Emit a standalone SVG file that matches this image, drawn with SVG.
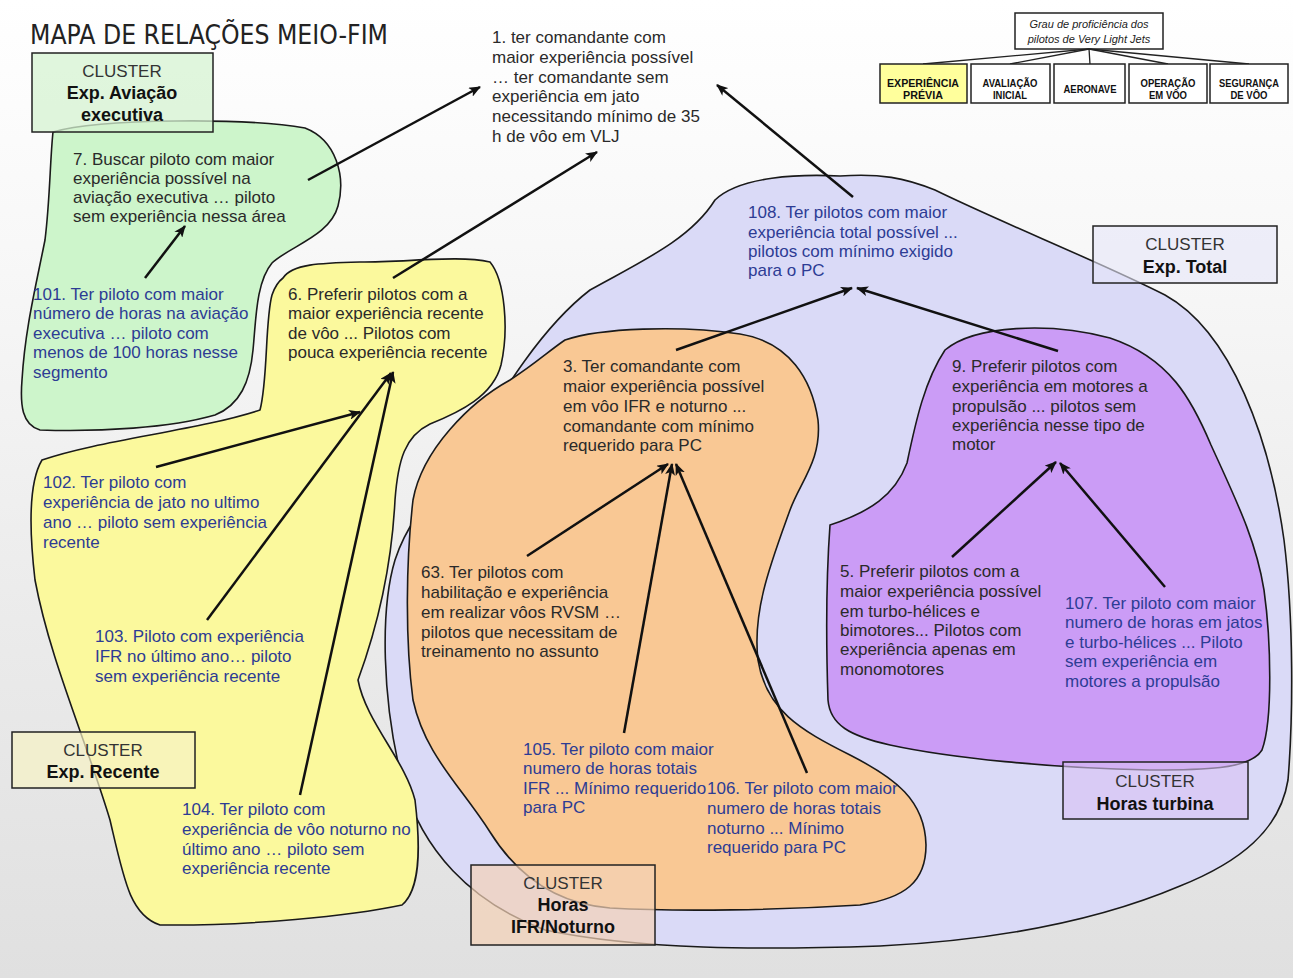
<svg xmlns="http://www.w3.org/2000/svg" width="1293" height="978" viewBox="0 0 1293 978">
<defs>
<linearGradient id="bg" x1="0" y1="0" x2="0" y2="1">
<stop offset="0" stop-color="#ffffff"/>
<stop offset="0.25" stop-color="#f8f8f8"/>
<stop offset="0.6" stop-color="#ececec"/>
<stop offset="1" stop-color="#e0e0e0"/>
</linearGradient>
<marker id="ah" markerWidth="12" markerHeight="10" refX="11" refY="5" orient="auto" markerUnits="userSpaceOnUse">
<path d="M0,0 L12,5 L0,10 L3,5 Z" fill="#111"/>
</marker>
<style>
.t{font-family:"Liberation Sans",Arial,sans-serif;font-size:17px;fill:#2a2a2a}
.b{fill:#2d3c94}
.blob{stroke:#1a1a1a;stroke-width:1.6}
.cb{stroke:#222;stroke-width:1.5}
.ct{font-family:"Liberation Sans",Arial,sans-serif;font-size:17px;fill:#333;text-anchor:middle}
.cbold{font-weight:bold;font-size:18px;fill:#111}
.arr{stroke:#111;stroke-width:2.5;fill:none;marker-end:url(#ah)}
.lg{font-family:"Liberation Sans",Arial,sans-serif;font-size:10px;font-weight:bold;fill:#111;text-anchor:middle}
.lbox{fill:#fff;stroke:#222;stroke-width:1.5}
.ll{stroke:#222;stroke-width:1.3}
</style>
</defs>
<rect width="1293" height="978" fill="url(#bg)"/>

<text x="30" y="44" font-family="'DejaVu Sans',sans-serif" font-size="27" fill="#222" textLength="358" lengthAdjust="spacingAndGlyphs">MAPA DE RELAÇÕES MEIO-FIM</text>

<!-- cluster regions -->
<g id="cluster-exp-total">
<path class="blob" fill="#dadaf7" d="M455,470 C477,440 525,340 590,290 C640,262 690,240 715,200 C740,176 800,174 840,176 C880,173 905,178 935,190 C1000,222 1100,262 1165,295 C1232,332 1270,440 1284,540 C1294,620 1293,720 1288,780 C1280,830 1240,862 1180,886 C1100,920 1000,940 880,946 C760,950 640,950 545,930 C470,902 422,850 402,780 C382,700 380,610 395,560 C408,520 432,497 455,470 Z"/>
</g>
<g id="cluster-horas-ifr">
<path class="blob" fill="#f9c894" d="M565,340 C600,328 680,325 740,334 C790,342 812,380 818,420 C822,460 800,482 790,510 C772,560 752,610 758,660 C766,710 800,730 850,755 C895,778 925,800 926,845 C926,882 905,898 860,905 C780,910 680,912 610,908 C560,904 520,880 490,832 C460,785 425,755 413,700 C405,640 406,560 413,500 C422,450 470,402 510,380 C535,364 550,350 565,340 Z"/>
</g>
<g id="cluster-horas-turbina">
<path class="blob" fill="#cb9cf6" d="M830,525 C870,512 895,495 907,463 C916,420 925,380 945,350 C975,325 1050,322 1110,338 C1170,358 1192,400 1211,445 C1236,500 1256,540 1264,590 C1271,640 1273,720 1262,750 C1250,770 1200,770 1150,770 C1050,768 950,758 890,745 C850,736 830,725 828,700 C826,640 826,580 830,525 Z"/>
</g>
<g id="cluster-exp-aviacao">
<path class="blob" fill="#cdf5cb" d="M53,132 C100,118 250,118 305,128 C336,140 346,176 338,206 C330,236 290,246 272,263 C256,282 256,320 253,350 C250,382 240,405 215,415 C170,428 100,432 40,430 C22,425 20,405 22,380 C25,330 35,290 45,240 C50,200 50,160 53,132 Z"/>
</g>
<g id="cluster-exp-recente">
<path class="blob" fill="#fbf99d" d="M283,278 C292,264 320,263 360,262 C410,262 460,255 490,262 C505,280 509,330 501,365 C493,396 460,412 430,424 C405,436 398,460 395,500 C392,560 380,620 358,680 C366,722 405,760 415,800 C421,850 420,890 402,905 C350,916 250,926 160,925 C130,915 124,880 110,820 C86,740 50,660 35,580 C28,520 30,480 42,460 C100,440 200,430 260,410 C268,380 265,320 272,295 C275,286 279,281 283,278 Z"/>
</g>

<!-- cluster label boxes -->
<g id="label-exp-aviacao">
<rect class="cb" x="32" y="53" width="181" height="79" fill="#d6f3d2" fill-opacity="0.75"/>
<text class="ct" x="122" y="77">CLUSTER</text>
<text class="ct cbold" x="122" y="99">Exp. Aviação</text>
<text class="ct cbold" x="122" y="121">executiva</text>
</g>
<g id="label-exp-recente">
<rect class="cb" x="12" y="732" width="183" height="56" fill="#f6f2c4" fill-opacity="0.7"/>
<text class="ct" x="103" y="756">CLUSTER</text>
<text class="ct cbold" x="103" y="778">Exp. Recente</text>
</g>
<g id="label-horas-ifr">
<rect class="cb" x="471" y="865" width="184" height="80" fill="#f3d2b6" fill-opacity="0.7"/>
<text class="ct" x="563" y="889">CLUSTER</text>
<text class="ct cbold" x="563" y="911">Horas</text>
<text class="ct cbold" x="563" y="933">IFR/Noturno</text>
</g>
<g id="label-exp-total">
<rect class="cb" x="1093" y="226" width="184" height="57" fill="#e6e6f8" fill-opacity="0.6"/>
<text class="ct" x="1185" y="250">CLUSTER</text>
<text class="ct cbold" x="1185" y="273">Exp. Total</text>
</g>
<g id="label-horas-turbina">
<rect class="cb" x="1063" y="762" width="185" height="57" fill="#d8c2f4" fill-opacity="0.6"/>
<text class="ct" x="1155" y="787">CLUSTER</text>
<text class="ct cbold" x="1155" y="810">Horas turbina</text>
</g>

<!-- legend -->
<g id="legend">
<rect class="lbox" x="1015" y="13" width="148" height="36"/>
<text x="1089" y="28" font-family="'Liberation Sans',sans-serif" font-size="11" font-style="italic" fill="#222" text-anchor="middle">Grau de proficiência dos</text>
<text x="1089" y="43" font-family="'Liberation Sans',sans-serif" font-size="11" font-style="italic" fill="#222" text-anchor="middle">pilotos de Very Light Jets</text>
<line class="ll" x1="1089" y1="49" x2="923" y2="64"/>
<line class="ll" x1="1089" y1="49" x2="1010" y2="64"/>
<line class="ll" x1="1089" y1="49" x2="1090" y2="64"/>
<line class="ll" x1="1089" y1="49" x2="1168" y2="64"/>
<line class="ll" x1="1089" y1="49" x2="1249" y2="64"/>
<rect class="lbox" x="880" y="64" width="87" height="39" style="fill:#ffff9c"/>
<rect class="lbox" x="971" y="64" width="79" height="39"/>
<rect class="lbox" x="1054" y="64" width="71" height="39"/>
<rect class="lbox" x="1129" y="64" width="78" height="39"/>
<rect class="lbox" x="1210" y="64" width="78" height="39"/>
<text class="lg" x="923" y="87" textLength="72" lengthAdjust="spacingAndGlyphs">EXPERIÊNCIA</text>
<text class="lg" x="923" y="99" textLength="40" lengthAdjust="spacingAndGlyphs">PRÉVIA</text>
<text class="lg" x="1010" y="87" textLength="55" lengthAdjust="spacingAndGlyphs">AVALIAÇÃO</text>
<text class="lg" x="1010" y="99" textLength="34" lengthAdjust="spacingAndGlyphs">INICIAL</text>
<text class="lg" x="1090" y="93" textLength="53" lengthAdjust="spacingAndGlyphs">AERONAVE</text>
<text class="lg" x="1168" y="87" textLength="55" lengthAdjust="spacingAndGlyphs">OPERAÇÃO</text>
<text class="lg" x="1168" y="99" textLength="38" lengthAdjust="spacingAndGlyphs">EM VÔO</text>
<text class="lg" x="1249" y="87" textLength="60" lengthAdjust="spacingAndGlyphs">SEGURANÇA</text>
<text class="lg" x="1249" y="99" textLength="37" lengthAdjust="spacingAndGlyphs">DE VÔO</text>
</g>

<!-- connectors -->
<g id="connectors">
<line class="arr" x1="308" y1="180" x2="480" y2="87"/>
<line class="arr" x1="393" y1="278" x2="597" y2="152"/>
<line class="arr" x1="853" y1="197" x2="717" y2="85"/>
<line class="arr" x1="145" y1="278" x2="185" y2="226"/>
<line class="arr" x1="156" y1="467" x2="360" y2="412"/>
<line class="arr" x1="207" y1="620" x2="391" y2="373"/>
<line class="arr" x1="300" y1="795" x2="393" y2="372"/>
<line class="arr" x1="676" y1="350" x2="852" y2="288"/>
<line class="arr" x1="1058" y1="351" x2="857" y2="288"/>
<line class="arr" x1="527" y1="556" x2="668" y2="464"/>
<line class="arr" x1="624" y1="733" x2="672" y2="464"/>
<line class="arr" x1="807" y1="773" x2="676" y2="464"/>
<line class="arr" x1="952" y1="557" x2="1056" y2="462"/>
<line class="arr" x1="1165" y1="587" x2="1060" y2="463"/>
</g>

<!-- nodes -->
<g id="node-1"><text class="t" x="492" y="43">1. ter comandante com</text><text class="t" x="492" y="63">maior experiência possível</text><text class="t" x="492" y="83">… ter comandante sem</text><text class="t" x="492" y="102">experiência em jato</text><text class="t" x="492" y="122">necessitando mínimo de 35</text><text class="t" x="492" y="142">h de vôo em VLJ</text></g>
<g id="node-7"><text class="t" x="73" y="165">7. Buscar piloto com maior</text><text class="t" x="73" y="184">experiência possível na</text><text class="t" x="73" y="203">aviação executiva …  piloto</text><text class="t" x="73" y="222">sem experiência nessa área</text></g>
<g id="node-101"><text class="t b" x="33" y="300">101. Ter piloto com maior</text><text class="t b" x="33" y="319">número de horas na aviação</text><text class="t b" x="33" y="339">executiva …  piloto com</text><text class="t b" x="33" y="358">menos de 100 horas nesse</text><text class="t b" x="33" y="378">segmento</text></g>
<g id="node-6"><text class="t" x="288" y="300">6. Preferir pilotos com a</text><text class="t" x="288" y="319">maior experiência recente</text><text class="t" x="288" y="339">de vôo ... Pilotos com</text><text class="t" x="288" y="358">pouca experiência recente</text></g>
<g id="node-108"><text class="t b" x="748" y="218">108. Ter pilotos com maior</text><text class="t b" x="748" y="238">experiência total possível ...</text><text class="t b" x="748" y="257">pilotos com mínimo exigido</text><text class="t b" x="748" y="276">para o PC</text></g>
<g id="node-3"><text class="t" x="563" y="372">3. Ter comandante com</text><text class="t" x="563" y="392">maior experiência possível</text><text class="t" x="563" y="412">em vôo IFR  e noturno ...</text><text class="t" x="563" y="432">comandante com mínimo</text><text class="t" x="563" y="451">requerido para PC</text></g>
<g id="node-9"><text class="t" x="952" y="372">9. Preferir pilotos com</text><text class="t" x="952" y="392">experiência em motores a</text><text class="t" x="952" y="412">propulsão ... pilotos sem</text><text class="t" x="952" y="431">experiência nesse tipo de</text><text class="t" x="952" y="450">motor</text></g>
<g id="node-102"><text class="t b" x="43" y="488">102. Ter piloto com</text><text class="t b" x="43" y="508">experiência de jato no ultimo</text><text class="t b" x="43" y="528">ano … piloto sem experiência</text><text class="t b" x="43" y="548">recente</text></g>
<g id="node-63"><text class="t" x="421" y="578">63. Ter pilotos com</text><text class="t" x="421" y="598">habilitação e experiência</text><text class="t" x="421" y="618">em realizar vôos RVSM …</text><text class="t" x="421" y="638">pilotos que necessitam de</text><text class="t" x="421" y="657">treinamento no assunto</text></g>
<g id="node-5"><text class="t" x="840" y="577">5. Preferir pilotos com a</text><text class="t" x="840" y="597">maior experiência possível</text><text class="t" x="840" y="617">em turbo-hélices  e</text><text class="t" x="840" y="636">bimotores... Pilotos com</text><text class="t" x="840" y="655">experiência apenas em</text><text class="t" x="840" y="675">monomotores</text></g>
<g id="node-107"><text class="t b" x="1065" y="609">107. Ter piloto com maior</text><text class="t b" x="1065" y="628">numero de horas em jatos</text><text class="t b" x="1065" y="648">e turbo-hélices ... Piloto</text><text class="t b" x="1065" y="667">sem experiência em</text><text class="t b" x="1065" y="687">motores a propulsão</text></g>
<g id="node-103"><text class="t b" x="95" y="642">103. Piloto com experiência</text><text class="t b" x="95" y="662">IFR no último ano… piloto</text><text class="t b" x="95" y="682">sem experiência recente</text></g>
<g id="node-105"><text class="t b" x="523" y="755">105. Ter piloto com maior</text><text class="t b" x="523" y="774">numero de horas totais</text><text class="t b" x="523" y="794">IFR ... Mínimo requerido</text><text class="t b" x="523" y="813">para PC</text></g>
<g id="node-106"><text class="t b" x="707" y="794">106. Ter piloto com maior</text><text class="t b" x="707" y="814">numero de horas totais</text><text class="t b" x="707" y="834">noturno ... Mínimo</text><text class="t b" x="707" y="853">requerido para PC</text></g>
<g id="node-104"><text class="t b" x="182" y="815">104. Ter piloto com</text><text class="t b" x="182" y="835">experiência de vôo noturno no</text><text class="t b" x="182" y="855">último ano … piloto sem</text><text class="t b" x="182" y="874">experiência recente</text></g>
</svg>
